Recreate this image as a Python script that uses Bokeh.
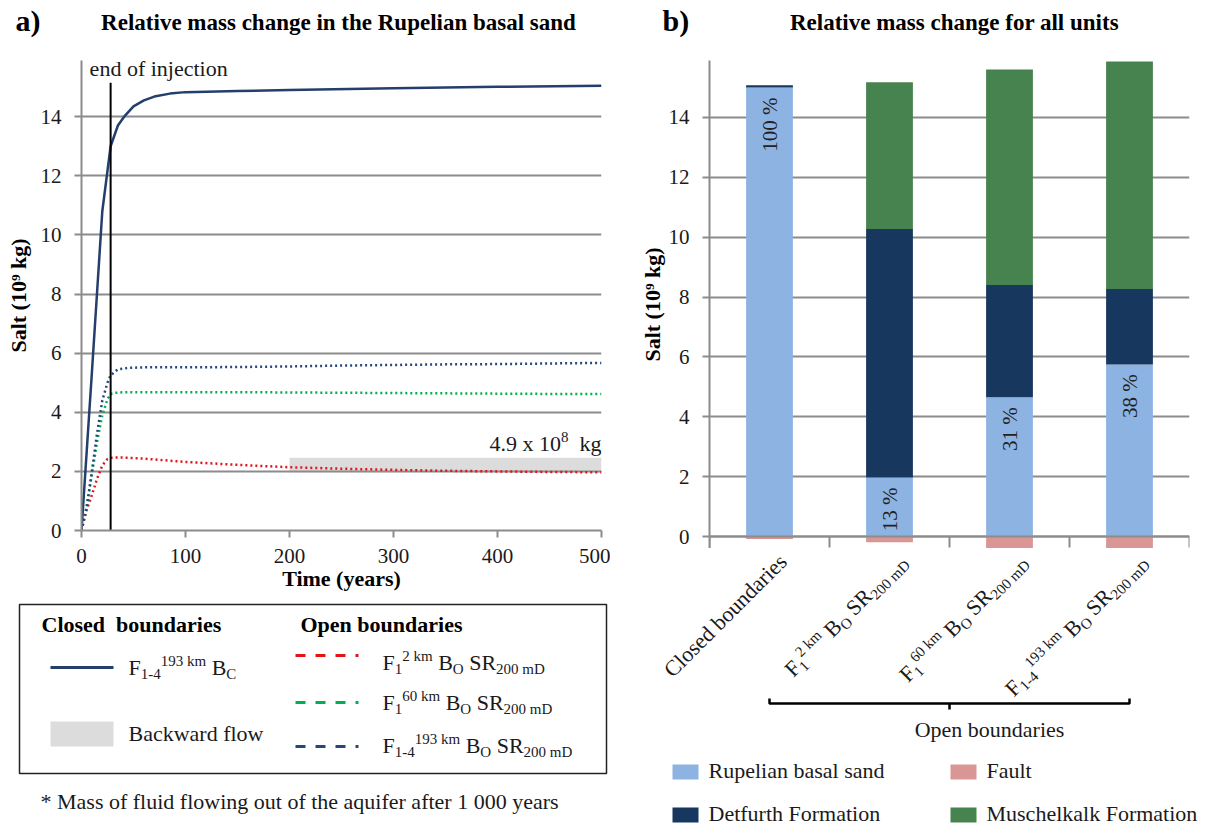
import math
from bokeh.plotting import figure
from bokeh.models import Range1d, FixedTicker, ColumnDataSource, Label, Span
from bokeh.layouts import row, column
from bokeh.embed import file_html
from bokeh.resources import INLINE
from bokeh.core.properties import value

SERIF = "Liberation Serif"

# ---------------- panel a: salt mass in the Rupelian basal sand (10^9 kg) ----------------
t_closed = [0, 10, 20, 28, 35, 41, 50, 60, 70, 85, 100, 150, 200, 300, 400, 500]
s_closed = [0, 5.35, 10.8, 13.0, 13.7, 14.0, 14.35, 14.55, 14.68, 14.78, 14.83,
            14.87, 14.9, 14.96, 15.01, 15.05]

t_open = [0, 5, 10, 15, 20, 25, 28, 35, 45, 60, 100, 150, 200, 250, 300, 350, 400, 450, 500]
s_f1_2km = [0, 0.7, 1.2, 1.75, 2.2, 2.42, 2.46, 2.47, 2.46, 2.43, 2.32, 2.22, 2.14,
            2.09, 2.05, 2.02, 2.0, 1.98, 1.97]
s_f1_60km = [0, 0.8, 1.9, 3.0, 3.9, 4.45, 4.62, 4.67, 4.68, 4.68, 4.68, 4.68, 4.67,
             4.66, 4.65, 4.64, 4.63, 4.62, 4.62]
s_f14_193km = [0, 0.8, 2.0, 3.3, 4.4, 5.0, 5.25, 5.45, 5.5, 5.52, 5.52, 5.53, 5.55,
               5.58, 5.6, 5.62, 5.63, 5.65, 5.67]

injection_end = 28          # years
backflow_start = 200        # years
backflow_end = 500
backflow_low = 1.97         # 10^9 kg
backflow_mass = 0.49        # 10^9 kg = 4.9 x 10^8 kg

x_ticks_a = [0, 100, 200, 300, 400, 500]
y_ticks = [0, 2, 4, 6, 8, 10, 12, 14]

# ---------------- panel b: stacked mass change per unit (10^9 kg) ----------------
rupelian = [15.0, 1.97, 4.65, 5.75]
detfurth = [0.07, 8.30, 3.75, 2.52]
muschelkalk = [0.0, 4.90, 7.20, 7.60]
fault = [-0.08, -0.19, -0.39, -0.39]

cat_labels = [
    [("Closed boundaries", "n")],
    [("F", "n"), ("1", "sub"), ("2 km", "sup"), (" B", "n"), ("O", "sub"), (" SR", "n"), ("200 mD", "sub")],
    [("F", "n"), ("1", "sub"), ("60 km", "sup"), (" B", "n"), ("O", "sub"), (" SR", "n"), ("200 mD", "sub")],
    [("F", "n"), ("1-4", "sub"), ("193 km", "sup"), (" B", "n"), ("O", "sub"), (" SR", "n"), ("200 mD", "sub")],
]
legend_closed = [("F", "n"), ("1-4", "sub"), ("193 km", "sup"), (" B", "n"), ("C", "sub")]
legend_open = cat_labels[1:]

# ---------------- colours ----------------
NAVY_LINE = "#243F6B"
RED_DOT = "#E3131B"
GREEN_DOT = "#00B050"
BLUE_DOT = "#25477A"
GRID = "#8C8C8C"
BAND = "#DCDCDC"
C_RUP = "#8DB3E2"
C_DET = "#17375E"
C_MUS = "#47834F"
C_FAU = "#D99694"
TXT = "#1A1A1A"

# Times-compatible advance widths (1/1000 em) for laying out mixed-size text runs
ADV = {' ': 250, '-': 333, '.': 250, '%': 833, '*': 500, '(': 333, ')': 333,
       'B': 667, 'C': 667, 'D': 722, 'F': 556, 'O': 722, 'R': 667, 'S': 556,
       'k': 500, 'm': 778, 'x': 500, 'g': 500, 'a': 444, 'e': 444, 'i': 278,
       'l': 278, 'n': 500, 'o': 500, 'r': 333, 's': 389, 't': 278, 'u': 500,
       'd': 500, 'b': 500}

# the renderer sits "alphabetic" text this fraction of an em below the anchor
BASE_FIX = 0.36


def text_w(s, size):
    return sum(ADV.get(c, 500) for c in s) * size / 1000.0


def runs(segments, main=22, small=15, sub_drop=4, sup_rise=9):
    """Split a label into runs: (text, advance, downward shift, font size).
    Leading blanks are turned into advance, since SVG collapses them."""
    out, adv = [], 0.0
    for s, role in segments:
        size = main if role == "n" else small
        shift = 0 if role == "n" else (sub_drop if role == "sub" else -sup_rise)
        stripped = s.lstrip(" ")
        lead = text_w(s[:len(s) - len(stripped)], size)
        out.append((stripped, adv + lead, shift, size))
        adv += text_w(s, size)
    return out, adv


def pixel_fig(w, h):
    p = figure(width=w, height=h, x_range=Range1d(0, w), y_range=Range1d(h, 0),
               output_backend="svg", toolbar_location=None, tools="",
               x_axis_location=None, y_axis_location=None,
               min_border=0, outline_line_color=None, frame_align=False)
    p.min_border_left = p.min_border_right = p.min_border_top = p.min_border_bottom = 0
    p.xgrid.visible = False
    p.ygrid.visible = False
    return p


def ptext(p, xs, ys, texts, size=22, bold=False, align="left", color=TXT):
    """Plain text on a pixel figure; ys are baselines."""
    p.text(x=xs, y=[y - BASE_FIX * size for y in ys], text=texts,
           text_font=value(SERIF), text_font_size=f"{size}px",
           text_font_style="bold" if bold else "normal", text_color=color,
           text_baseline="alphabetic", text_align=align)


def draw_runs(p, segments, x0, y0, angle=0.0, align="left", **kw):
    """Draw a label with sub/superscripts; (x0, y0) is the baseline start (or end if align='right')."""
    rr, total = runs(segments, **kw)
    ux, uy = math.cos(angle), -math.sin(angle)
    dx, dy = math.sin(angle), math.cos(angle)
    if align == "right":
        x0, y0 = x0 - total * ux, y0 - total * uy
    xs, ys, ts, fs = [], [], [], []
    for s, adv, shift, size in rr:
        down = shift - BASE_FIX * size
        xs.append(x0 + adv * ux + down * dx)
        ys.append(y0 + adv * uy + down * dy)
        ts.append(s)
        fs.append(f"{size}px")
    src = ColumnDataSource(dict(x=xs, y=ys, t=ts, fs=fs))
    p.text(x="x", y="y", text="t", text_font_size="fs", source=src, angle=angle,
           text_font=value(SERIF), text_color=TXT, text_baseline="alphabetic", text_align="left")


def style_axis(ax):
    ax.axis_line_color = GRID
    ax.axis_line_width = 2
    ax.major_tick_line_color = GRID
    ax.major_tick_line_width = 2
    ax.major_tick_out = 7
    ax.major_tick_in = 0
    ax.minor_tick_line_color = None
    ax.major_label_text_font = SERIF
    ax.major_label_text_font_size = "21px"
    ax.major_label_text_color = TXT
    ax.axis_label_text_font = SERIF
    ax.axis_label_text_font_size = "22px"
    ax.axis_label_text_font_style = "bold"
    ax.axis_label_text_color = "black"


# ================= header rows =================
ha = pixel_fig(610, 50)
ptext(ha, [15], [31], ["a)"], size=30, bold=True, color="black")
ptext(ha, [338], [30], ["Relative mass change in the Rupelian basal sand"], size=23,
      bold=True, align="center", color="black")

hb = pixel_fig(599, 60)
ptext(hb, [52], [31], ["b)"], size=30, bold=True, color="black")
ptext(hb, [344], [30], ["Relative mass change for all units"], size=23,
      bold=True, align="center", color="black")

# ================= panel a =================
A_W, A_H, A_L, A_R, A_T, A_B = 610, 548, 81, 9, 10, 68
A_YMAX = 15.9
pa = figure(width=A_W, height=A_H, x_range=Range1d(0, 500), y_range=Range1d(0, A_YMAX),
            output_backend="svg", toolbar_location=None, tools="",
            min_border_left=A_L, min_border_right=A_R, min_border_top=A_T, min_border_bottom=A_B,
            outline_line_color=None, frame_align=False)
px_per_year = (A_W - A_L - A_R) / 500.0
px_per_unit_a = (A_H - A_T - A_B) / A_YMAX

pa.xaxis.ticker = FixedTicker(ticks=x_ticks_a)
pa.yaxis.ticker = FixedTicker(ticks=y_ticks)
for ax in (pa.xaxis[0], pa.yaxis[0]):
    style_axis(ax)
pa.xaxis.axis_label = "Time (years)"
pa.xaxis.major_label_standoff = 11
pa.xaxis.axis_label_standoff = 0
pa.yaxis.axis_label = "Salt (10\u2079 kg)"
pa.yaxis.major_label_standoff = 13
pa.yaxis.axis_label_standoff = 7
pa.xgrid.visible = False
pa.ygrid.grid_line_color = GRID
pa.ygrid.grid_line_width = 2

# backward-flow band
pa.quad(left=[backflow_start], right=[backflow_end], bottom=[backflow_low],
        top=[backflow_low + backflow_mass], fill_color=BAND, line_color=None, level="image")

pa.line(t_open, s_f1_2km, line_color=RED_DOT, line_width=2.5, line_dash="2 3")
pa.line(t_open, s_f1_60km, line_color=GREEN_DOT, line_width=2.5, line_dash="2 3")
pa.line(t_open, s_f14_193km, line_color=BLUE_DOT, line_width=2.5, line_dash="2 3")
pa.line(t_closed, s_closed, line_color=NAVY_LINE, line_width=2.5)

# end of injection marker
pa.segment(x0=[injection_end], y0=[0], x1=[injection_end], y1=[15.15],
           line_color="black", line_width=2)
pa.add_layout(Label(x=injection_end, y=15.36 + BASE_FIX * 22 / px_per_unit_a, x_offset=-21,
                    text="end of injection", text_font=SERIF, text_font_size="22px",
                    text_color=TXT, text_baseline="alphabetic"))

# annotation of the backward-flow mass, right aligned on the band end
mant = f"{backflow_mass * 10:.1f} x 10"
ann = [(mant, "n"), ("8", "sup"), ("  kg", "n")]
rr, tot = runs(ann)
base_y = backflow_low + backflow_mass + 6 / px_per_unit_a
axs, ays, ats, afs = [], [], [], []
for s, adv, shift, size in rr:
    axs.append(backflow_end - (tot - adv) / px_per_year)
    ays.append(base_y + (BASE_FIX * size - shift) / px_per_unit_a)
    ats.append(s)
    afs.append(f"{size}px")
pa.text(x="x", y="y", text="t", text_font_size="fs",
        source=ColumnDataSource(dict(x=axs, y=ays, t=ats, fs=afs)),
        text_font=value(SERIF), text_color=TXT, text_baseline="alphabetic")

# ================= legend of panel a =================
la = pixel_fig(610, 229)
la.quad(left=[19], right=[606], top=[6], bottom=[175], fill_color=None,
        line_color="#222222", line_width=1.5)
ptext(la, [41, 300], [34, 34], ["Closed\u00a0 boundaries", "Open boundaries"], bold=True, color="black")
la.line(x=[50, 113], y=[69, 69], line_color=NAVY_LINE, line_width=3)
draw_runs(la, legend_closed, 128, 77)
la.quad(left=[50], right=[113], top=[123], bottom=[148], fill_color=BAND, line_color=None)
ptext(la, [128], [143], ["Backward flow"])
for col, ly, ty, segs in zip([RED_DOT, GREEN_DOT, BLUE_DOT], [57, 104, 148], [72, 112, 155], legend_open):
    la.line(x=[295, 358], y=[ly, ly], line_color=col, line_width=3, line_dash="10 10")
    draw_runs(la, segs, 382, ty)
ptext(la, [40], [211], ["* Mass of fluid flowing out of the aquifer after 1 000 years"])

# ================= panel b =================
B_W, B_H, B_L, B_R = 599, 488, 99, 20
B_YMIN, B_YMAX = -0.4, 15.9
n_cat = len(rupelian)
pb = figure(width=B_W, height=B_H, x_range=Range1d(0, n_cat), y_range=Range1d(B_YMIN, B_YMAX),
            output_backend="svg", toolbar_location=None, tools="", x_axis_location=None,
            min_border_left=B_L, min_border_right=B_R, min_border_top=0, min_border_bottom=0,
            outline_line_color=None, frame_align=False)
px_per_unit_b = B_H / (B_YMAX - B_YMIN)
cat_px = (B_W - B_L - B_R) / n_cat

pb.yaxis.ticker = FixedTicker(ticks=y_ticks)
style_axis(pb.yaxis[0])
pb.yaxis.axis_label = "Salt (10\u2079 kg)"
pb.yaxis.major_label_standoff = 13
pb.yaxis.axis_label_standoff = 1
pb.xgrid.visible = False
pb.ygrid.grid_line_color = GRID
pb.ygrid.grid_line_width = 2

pct = [f"{round(100 * r / rupelian[0])} %" for r in rupelian]
src = ColumnDataSource(dict(
    x=[i + 0.5 for i in range(n_cat)], rupelian=rupelian, detfurth=detfurth,
    muschelkalk=muschelkalk, fault=fault, pct=pct,
    label_y=[r - 10 / px_per_unit_b for r in rupelian]))
pb.vbar_stack(["rupelian", "detfurth", "muschelkalk"], x="x", width=0.39,
              fill_color=[C_RUP, C_DET, C_MUS], line_color=None, source=src)
pb.vbar(x="x", top="fault", bottom=0, width=0.39, fill_color=C_FAU, line_color=None, source=src)
pb.text(x="x", y="label_y", text="pct", angle=math.pi / 2, text_align="right",
        text_baseline="middle", text_font=value(SERIF), text_font_size="21px",
        text_color="#222222", source=src)

# category axis drawn at zero with tick marks between categories
pb.add_layout(Span(location=0, dimension="width", line_color=GRID, line_width=2))
bounds = list(range(n_cat + 1))
pb.segment(x0=bounds, y0=[0] * len(bounds), x1=bounds, y1=[-11 / px_per_unit_b] * len(bounds),
           line_color=GRID, line_width=2)

# ================= category labels + legend of panel b =================
b2 = pixel_fig(599, 279)


def cat_x(v):
    return B_L + v * cat_px


ANG = math.pi / 4
for i, segs in enumerate(cat_labels):
    draw_runs(b2, segs, cat_x(i + 0.5) + 19, 15, angle=ANG, align="right")

# bracket grouping the open-boundary cases
bx0, bx1 = cat_x(0.5), cat_x(n_cat - 0.5)
bmid = (bx0 + bx1) / 2
b2.line(x=[bx0, bx0, bx1, bx1], y=[150, 155, 155, 150], line_color="black", line_width=2.5)
b2.line(x=[bmid, bmid], y=[155, 161], line_color="black", line_width=2.5)
ptext(b2, [bmid + 40], [189], ["Open boundaries"], align="center")

units = ["Rupelian basal sand", "Fault", "Detfurth Formation", "Muschelkalk Formation"]
unit_colors = [C_RUP, C_FAU, C_DET, C_MUS]
sq_x = [62, 340, 62, 340]
sq_y = [216, 216, 259, 259]
b2.quad(left=sq_x, right=[x + 26 for x in sq_x], top=sq_y, bottom=[y + 15 for y in sq_y],
        fill_color=unit_colors, line_color=None)
ptext(b2, [x + 36 for x in sq_x], [y + 14 for y in sq_y], units)

layout = row(column(ha, pa, la), column(hb, pb, b2))

with open("out.html", "w") as f:
    f.write(file_html(layout, INLINE))
